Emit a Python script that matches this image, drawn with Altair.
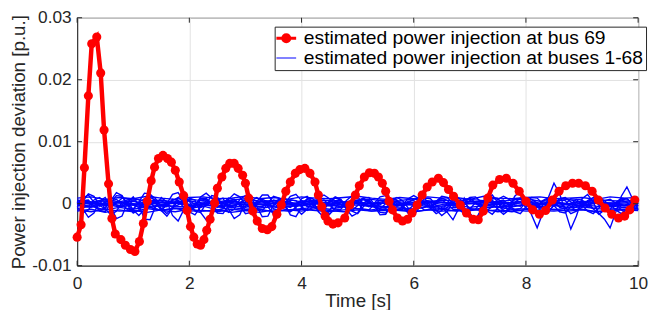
import altair as alt
import pandas as pd

RED_LABEL = "estimated power injection at bus 69"
BLUE_LABEL = "estimated power injection at buses 1-68"

# ---- bus 69 (red), time [s] and value [1e-3 p.u.] ----
red_t = [0.00,0.07,0.13,0.20,0.26,0.35,0.42,0.48,0.56,0.62,
         0.68,0.78,0.86,0.95,1.03,1.11,1.18,1.25,1.32,1.38,
         1.45,1.53,1.61,1.68,1.75,1.82,1.90,1.96,2.02,2.08,
         2.14,2.20,2.26,2.31,2.37,2.45,2.50,2.58,2.65,2.72,
         2.80,2.87,2.95,3.00,3.06,3.13,3.21,3.30,3.39,3.47,
         3.56,3.64,3.72,3.80,3.89,3.97,4.06,4.15,4.24,4.30,
         4.36,4.42,4.47,4.56,4.65,4.77,4.86,4.96,5.03,5.12,
         5.21,5.30,5.37,5.44,5.50,5.56,5.62,5.71,5.80,5.89,
         5.97,6.06,6.15,6.24,6.33,6.44,6.53,6.62,6.71,6.83,
         6.94,7.06,7.15,7.24,7.32,7.41,7.53,7.65,7.77,7.88,
         8.00,8.12,8.24,8.35,8.47,8.59,8.71,8.83,8.94,9.06,
         9.18,9.29,9.41,9.53,9.65,9.76,9.85,9.94]
red_v = [-5.4,-3.4,5.8,17.4,25.8,26.9,21.1,11.9,3.2,-2.4,
         -4.9,-5.8,-6.7,-7.4,-7.7,-6.1,-3.2,0.4,3.7,5.9,
         7.3,7.8,7.3,6.7,5.4,3.5,1.3,-1.1,-3.7,-5.4,
         -6.5,-6.7,-5.8,-4.3,-2.5,0.1,2.5,4.3,5.7,6.5,
         6.5,5.7,4.6,3.3,0.9,-1.2,-2.8,-4.0,-4.2,-3.7,
         -1.7,-0.2,2.0,3.5,4.9,5.5,5.7,4.9,3.5,1.4,
         -0.5,-2.0,-2.8,-3.3,-3.1,-2.3,-0.2,1.4,2.9,4.3,
         5.0,4.9,4.3,3.3,2.0,0.4,-1.0,-2.3,-2.8,-2.5,
         -1.5,-0.2,1.4,2.7,3.5,4.1,3.4,2.3,1.2,-0.2,
         -1.5,-2.5,-2.6,-1.2,0.9,3.0,3.9,4.1,3.3,2.0,
         0.4,-1.0,-1.7,-1.1,0.6,2.0,2.9,3.3,3.3,2.9,
         2.0,0.6,-0.7,-1.7,-2.3,-2.0,-1.0,0.6]

# ---- buses 1-68 (blue), representative traces [1e-3 p.u.] ----
wavy_t = [round(0.1 * i, 1) for i in range(101)]
wavy_1 = [0.0,0.9,1.4,0.2,-1.1,-1.3,0.1,1.3,1.2,-0.3,
          -1.5,-1.0,0.6,1.5,0.8,-0.8,-1.6,-0.6,1.0,1.4,
          0.4,-1.2,-1.4,0.0,1.3,1.1,-0.4,-1.4,-0.9,0.7,
          1.3,0.5,-1.0,-1.2,0.1,1.2,0.9,-0.5,-1.3,-0.6,
          0.8,1.2,0.2,-1.0,-1.0,0.3,1.1,0.7,-0.6,-1.1,
          -0.3,0.9,1.0,-0.1,-1.0,-0.8,0.5,1.0,0.5,-0.7,
          -1.0,-0.1,0.9,0.8,-0.3,-1.0,-0.6,0.6,0.9,0.2,
          -0.8,-0.9,0.2,0.9,0.6,-0.5,-0.9,-0.3,0.7,0.8,
          -0.1,-0.8,-0.6,0.4,0.8,0.3,-0.6,-0.8,0.0,0.7,
          0.6,-0.3,-0.8,-0.4,0.5,0.7,0.1,-0.6,-0.6,0.2,
          0.6]
wavy_2 = [0.3,-0.8,-2.2,-1.5,0.4,1.0,-0.5,-2.4,-2.0,0.2,
          1.1,-0.2,-2.5,-2.6,-0.4,1.0,0.3,-1.9,-2.8,-1.0,
          0.9,0.6,-1.4,-2.6,-1.5,0.6,0.9,-0.9,-2.4,-1.8,
          0.3,0.9,-0.4,-2.1,-2.0,-0.2,0.8,0.0,-1.8,-2.1,
          -0.6,0.7,0.3,-1.3,-2.2,-1.1,0.5,0.5,-0.9,-2.0,
          -1.5,0.1,0.6,-0.4,-1.8,-1.7,-0.2,0.5,-0.1,-1.5,
          -1.9,-0.6,0.4,0.2,-1.0,-1.9,-1.2,0.2,0.4,-0.6,
          -1.8,-2.6,-1.0,0.3,0.1,-0.9,-1.7,-1.0,0.2,0.3,
          -0.6,-1.5,-1.4,-0.2,0.3,-0.3,-1.3,-1.5,-0.5,0.2,
          -0.2,-1.2,-1.6,-0.7,0.2,0.0,-1.0,-1.6,-0.9,0.1,
          0.0]
wavy_3 = [-0.5,0.4,1.6,1.2,-0.3,-0.8,0.5,1.8,1.3,-0.2,
          -0.9,0.3,1.7,1.6,0.0,-0.9,0.0,1.5,1.8,0.4,
          -0.8,-0.4,1.1,1.7,0.9,-0.5,-0.6,0.7,1.6,1.1,
          -0.2,-0.7,0.3,1.4,1.4,0.1,-0.6,0.0,1.2,1.5,
          0.5,-0.5,-0.3,0.9,1.4,0.8,-0.3,-0.5,0.5,1.3,
          1.1,0.0,-0.5,0.1,1.1,1.3,0.4,-0.4,-0.2,0.8,
          1.3,0.8,-0.2,-0.4,0.4,1.2,1.0,0.0,-0.4,0.1,
          1.0,1.1,0.3,-0.3,-0.2,0.7,1.2,0.7,-0.2,-0.4,
          0.3,1.0,0.9,0.0,-0.5,-0.1,0.8,1.0,0.3,-0.4,
          -0.3,0.5,1.0,0.6,-0.2,-0.4,0.2,0.9,0.8,0.0,
          -0.3]
wavy_4 = [0.2,-0.3,0.4,0.1,-0.4,0.3,0.5,-0.2,-0.5,0.2,
          0.6,0.0,-0.5,-0.2,0.4,0.5,-0.1,-0.6,-0.2,0.4,
          0.5,-0.1,-0.6,-0.3,0.3,0.6,0.1,-0.5,-0.4,0.2,
          0.6,0.2,-0.4,-0.5,0.1,0.6,0.3,-0.3,-0.6,0.0,
          0.5,0.4,-0.2,-0.6,-0.2,0.4,0.5,-0.1,-0.6,-0.3,
          0.3,0.7,0.2,-0.6,-0.8,0.0,0.8,0.6,-0.5,-1.0,
          -0.2,0.9,0.8,-0.4,-1.2,-0.6,-1.4,-2.6,-0.8,0.9,
          -1.5,-2.8,-1.0,0.9,1.4,0.2,-1.3,-0.8,1.2,2.0,
          0.5,-1.8,-3.9,-1.5,1.0,3.3,1.6,-1.2,-4.1,-2.0,
          0.8,1.5,0.2,-1.6,-2.5,-3.9,-1.4,1.2,2.7,0.8,
          -1.0]
wavy_5 = [-0.2,0.5,0.6,-0.4,-1.1,-0.6,0.4,0.7,-0.1,-1.0,
          -0.9,0.2,0.8,0.3,-0.8,-1.1,-0.2,0.7,0.5,-0.6,
          -1.2,-0.5,0.6,0.7,-0.3,-1.1,-0.8,0.3,0.7,0.0,
          -1.0,-1.0,0.1,0.7,0.3,-0.8,-1.1,-0.3,0.6,0.5,
          -0.5,-1.1,-0.6,0.4,0.6,-0.2,-1.0,-0.9,0.2,0.6,
          0.1,-0.9,-1.0,-0.1,0.6,0.4,-0.6,-1.1,-0.5,0.4,
          0.5,-0.4,-1.1,-0.8,0.2,0.6,0.0,-0.9,-1.0,-0.2,
          0.5,0.3,-0.7,-1.1,-0.5,0.4,0.6,-0.3,-1.0,-0.8,
          0.2,0.7,0.1,-0.9,-1.2,-0.3,0.6,0.5,-0.5,-1.1,
          -0.6,0.4,0.6,-0.2,-1.0,-0.9,0.1,0.6,0.2,-0.7,
          -0.8]
wavy_6 = [0.4,-0.3,-0.5,0.6,1.0,0.2,-0.5,0.1,0.9,0.8,
          -0.2,-0.6,0.3,1.0,0.6,-0.4,-0.5,0.5,1.0,0.3,
          -0.5,-0.2,0.8,0.9,0.0,-0.6,0.1,0.9,0.7,-0.3,
          -0.5,0.4,1.0,0.5,-0.4,-0.4,0.6,0.9,0.2,-0.5,
          -0.1,0.8,0.8,-0.1,-0.6,0.2,0.9,0.6,-0.3,-0.4,
          0.5,0.9,0.3,-0.5,-0.2,0.7,0.8,0.0,-0.5,0.1,
          0.8,0.7,-0.2,-0.5,0.3,0.9,0.5,-0.4,-0.3,0.6,
          0.9,0.2,-0.5,-0.1,0.8,0.8,-0.1,-0.6,0.2,0.9,
          0.6,-0.3,-0.4,0.5,1.0,0.3,-0.5,-0.1,0.8,0.7,
          -0.2,-0.5,0.3,0.9,0.5,-0.4,-0.3,0.6,0.8,0.1,
          -0.4]
wavy_7 = [-0.6,-1.5,-1.0,0.3,0.5,-0.8,-1.8,-1.2,0.2,0.4,
          -1.0,-1.9,-0.9,0.4,0.3,-1.1,-2.0,-0.8,0.5,0.1,
          -1.3,-1.8,-0.5,0.5,-0.1,-1.5,-1.6,-0.3,0.5,-0.3,
          -1.6,-1.4,0.0,0.4,-0.5,-1.7,-1.2,0.2,0.3,-0.8,
          -1.7,-0.9,0.3,0.1,-1.0,-1.7,-0.7,0.4,-0.1,-1.2,
          -1.6,-0.5,0.4,-0.3,-1.4,-1.5,-0.3,0.4,-0.5,-1.5,
          -1.3,-0.1,0.3,-0.7,-1.6,-1.1,0.1,0.2,-0.9,-1.6,
          -0.9,0.2,0.0,-1.1,-1.7,-0.7,0.3,-0.2,-1.3,-1.6,
          -0.5,0.3,-0.4,-1.5,-1.4,-0.2,0.3,-0.6,-1.6,-1.2,
          0.0,0.2,-0.8,-1.7,-1.0,0.1,0.0,-1.0,-1.6,-0.7,
          0.1]

quiet_t = [round(0.25 * i, 2) for i in range(41)]
quiet_1 = [0.6,0.2,0.7,0.3,0.8,0.4,0.6,0.2,0.7,0.5,0.3,0.6,0.8,0.4,0.5,0.7,0.3,0.6,0.5,0.2,
           0.6,0.7,0.4,0.5,0.8,0.3,0.6,0.4,0.7,0.5,0.3,0.6,0.8,0.4,0.5,0.7,0.2,0.6,0.5,0.4,0.6]
quiet_2 = [-0.8,-0.4,-1.0,-0.6,-0.9,-0.5,-1.1,-0.7,-0.8,-0.4,-1.0,-0.6,-0.9,-0.7,-0.5,-1.0,-0.8,-0.6,-0.9,-0.5,
           -0.8,-1.0,-0.6,-0.7,-0.9,-0.5,-0.8,-0.6,-1.0,-0.7,-0.5,-0.9,-0.8,-0.6,-1.0,-0.7,-0.5,-0.8,-0.9,-0.6,-0.7]
quiet_3 = [0.0,0.3,-0.3,0.2,-0.2,0.4,-0.1,0.3,-0.4,0.1,0.2,-0.3,0.3,-0.1,0.0,0.4,-0.3,0.1,-0.2,0.3,
           0.0,-0.4,0.2,0.1,-0.2,0.3,-0.1,0.0,0.4,-0.3,0.2,-0.1,0.3,-0.2,0.1,0.0,-0.3,0.2,0.1,-0.2,0.1]
quiet_4 = [-0.3,-0.6,-0.1,-0.5,-0.2,-0.7,-0.3,-0.4,-0.6,-0.2,-0.5,-0.3,-0.6,-0.1,-0.4,-0.5,-0.2,-0.6,-0.3,-0.4,
           -0.2,-0.5,-0.6,-0.3,-0.1,-0.5,-0.4,-0.2,-0.6,-0.3,-0.5,-0.4,-0.1,-0.5,-0.3,-0.6,-0.2,-0.4,-0.5,-0.3,-0.4]
quiet_5 = [0.3,0.0,0.5,0.1,0.4,-0.1,0.3,0.2,0.5,0.0,0.2,0.4,0.1,0.3,0.5,0.0,0.2,0.4,0.1,0.3,
           0.2,0.0,0.4,0.3,0.1,0.5,0.2,0.0,0.3,0.4,0.1,0.2,0.5,0.1,0.3,0.0,0.4,0.2,0.1,0.3,0.2]
quiet_6 = [-1.2,-0.9,-1.4,-1.0,-1.3,-0.8,-1.1,-1.3,-0.9,-1.2,-1.0,-1.4,-1.1,-0.9,-1.3,-1.0,-1.2,-0.8,-1.1,-1.3,
           -1.0,-1.2,-0.9,-1.1,-1.3,-1.0,-0.8,-1.2,-1.1,-0.9,-1.3,-1.0,-1.2,-1.1,-0.9,-1.2,-1.0,-1.3,-1.1,-0.9,-1.0]
quiet_7 = [0.9,1.1,0.7,1.0,0.8,1.2,0.9,0.7,1.0,1.1,0.8,0.9,1.2,0.8,1.0,0.7,1.1,0.9,0.8,1.0,
           1.2,0.9,0.7,1.0,0.8,1.1,0.9,1.0,0.7,1.2,0.9,0.8,1.0,1.1,0.8,0.9,1.0,0.7,1.1,0.9,1.0]
quiet_8 = [-0.1,-0.4,0.1,-0.3,0.0,-0.5,-0.2,0.1,-0.3,-0.1,-0.4,0.0,-0.2,-0.5,0.1,-0.2,-0.4,0.0,-0.3,-0.1,
           0.1,-0.3,-0.5,-0.1,-0.2,0.0,-0.4,-0.2,0.1,-0.3,-0.1,-0.5,-0.2,0.0,-0.3,-0.1,-0.4,0.1,-0.2,-0.3,-0.2]
quiet_9 = [-1.0,-1.3,-0.9,-1.2,-1.1,-1.4,-1.0,-0.8,-1.2,-1.1,-1.3,-0.9,-1.1,-1.4,-1.0,-1.2,-0.9,-1.1,-1.3,-1.0,
           -0.8,-1.2,-1.1,-0.9,-1.3,-1.0,-1.2,-1.1,-0.8,-1.2,-1.0,-1.3,-0.9,-1.1,-1.2,-1.0,-0.9,-1.3,-1.1,-1.0,-1.1]
quiet_10 = [0.2,-0.1,0.1,0.3,0.0,-0.2,0.2,0.1,-0.1,0.3,0.0,0.2,-0.1,0.1,0.3,-0.2,0.0,0.2,0.1,-0.1,
            0.3,0.0,0.1,-0.2,0.2,0.1,0.3,-0.1,0.0,0.2,0.1,-0.1,0.3,0.0,0.2,-0.2,0.1,0.2,0.0,0.1,0.1]

x_ticks = [0, 2, 4, 6, 8, 10]
y_ticks = [-0.01, 0.0, 0.01, 0.02, 0.03]

# ---- tables ----
red_df = pd.DataFrame({"t": red_t, "v": [x / 1000 for x in red_v]})
parts = []
for name, vals in [("w1", wavy_1), ("w2", wavy_2), ("w3", wavy_3), ("w4", wavy_4),
                   ("w5", wavy_5), ("w6", wavy_6), ("w7", wavy_7)]:
    parts.append(pd.DataFrame({"t": wavy_t, "v": [x / 1000 for x in vals], "bus": name}))
for name, vals in [("q1", quiet_1), ("q2", quiet_2), ("q3", quiet_3), ("q4", quiet_4),
                   ("q5", quiet_5), ("q6", quiet_6), ("q7", quiet_7), ("q8", quiet_8),
                   ("q9", quiet_9), ("q10", quiet_10)]:
    parts.append(pd.DataFrame({"t": quiet_t, "v": [x / 1000 for x in vals], "bus": name}))
blue_df = pd.concat(parts, ignore_index=True)
blue_df["series"] = BLUE_LABEL
xt_df = pd.DataFrame({"t": x_ticks})
yt_df = pd.DataFrame({"v": y_ticks})

W, H = 568, 251
AX = "#262626"

xs = alt.Scale(domain=[0, 10], nice=False, zero=False)
ys = alt.Scale(domain=[-0.01, 0.03], nice=False, zero=False)
xaxis = alt.Axis(values=x_ticks, title="Time [s]", format="d", labelFlush=False,
                 labelPadding=9, titlePadding=0, titleFontSize=19, grid=True)
yaxis = alt.Axis(values=y_ticks, title="Power injection deviation [p.u.]",
                 labelExpr="datum.value == 0 ? '0' : (datum.value < 0 ? '-' : '') + format(abs(datum.value), '.2f')",
                 labelPadding=6, titlePadding=3, titleFontSize=19, grid=True)
X = alt.X("t:Q", scale=xs, axis=xaxis)
Y = alt.Y("v:Q", scale=ys, axis=yaxis)

cond = f"datum.value == '{RED_LABEL}'"
red_path = "M-1.25,0H1.25M0.45,0A0.45,0.45,0,1,1,-0.45,0A0.45,0.45,0,1,1,0.45,0Z"
blue_path = "M-1.25,0H1.25"
legend = alt.Legend(
    title=None, orient="none", legendX=200, legendY=9, padding=2,
    strokeColor=AX, fillColor="white", labelFontSize=19.5, labelColor="black",
    labelLimit=500, labelOffset=8, symbolSize=256, rowPadding=-3,
    symbolType=alt.ExprRef(expr=f"{cond} ? '{red_path}' : '{blue_path}'"),
    symbolFillColor=alt.ExprRef(expr=f"{cond} ? '#ff0000' : 'transparent'"),
    symbolStrokeWidth=alt.ExprRef(expr=f"{cond} ? 3 : 1"),
)

blue = alt.Chart(blue_df).mark_line(strokeWidth=1.4).encode(
    x=X, y=Y, detail="bus:N",
    color=alt.Color("series:N",
                    scale=alt.Scale(domain=[RED_LABEL, BLUE_LABEL], range=["#ff0000", "#0000ff"]),
                    legend=legend),
)
red_line = alt.Chart(red_df).mark_line(color="#ff0000", strokeWidth=4.5).encode(x=X, y=Y)
red_pts = alt.Chart(red_df).mark_circle(color="#ff0000", size=85, opacity=1).encode(x=X, y=Y)

tick_b = alt.Chart(xt_df).mark_rule(color=AX, strokeWidth=1).encode(x=X, y=alt.value(H), y2=alt.value(H - 5))
tick_t = alt.Chart(xt_df).mark_rule(color=AX, strokeWidth=1).encode(x=X, y=alt.value(0), y2=alt.value(5))
tick_l = alt.Chart(yt_df).mark_rule(color=AX, strokeWidth=1).encode(y=Y, x=alt.value(0), x2=alt.value(5))
tick_r = alt.Chart(yt_df).mark_rule(color=AX, strokeWidth=1).encode(y=Y, x=alt.value(W), x2=alt.value(W - 5))

chart = alt.layer(blue, red_line, red_pts, tick_b, tick_t, tick_l, tick_r).properties(
    width=W, height=H,
    autosize=alt.AutoSizeParams(type="none"),
    padding={"left": 70, "top": 8, "right": 11, "bottom": 43},
).configure(font="Liberation Sans").configure_axis(
    domainColor=AX, domainWidth=1, tickSize=0, labelColor=AX, labelFontSize=17.5,
    titleColor=AX, titleFontWeight="normal",
    gridColor="#e2e2e2", gridWidth=1,
).configure_view(stroke=AX, strokeWidth=1)

chart.save("out.html", embed_options={"renderer": "svg", "actions": False})
